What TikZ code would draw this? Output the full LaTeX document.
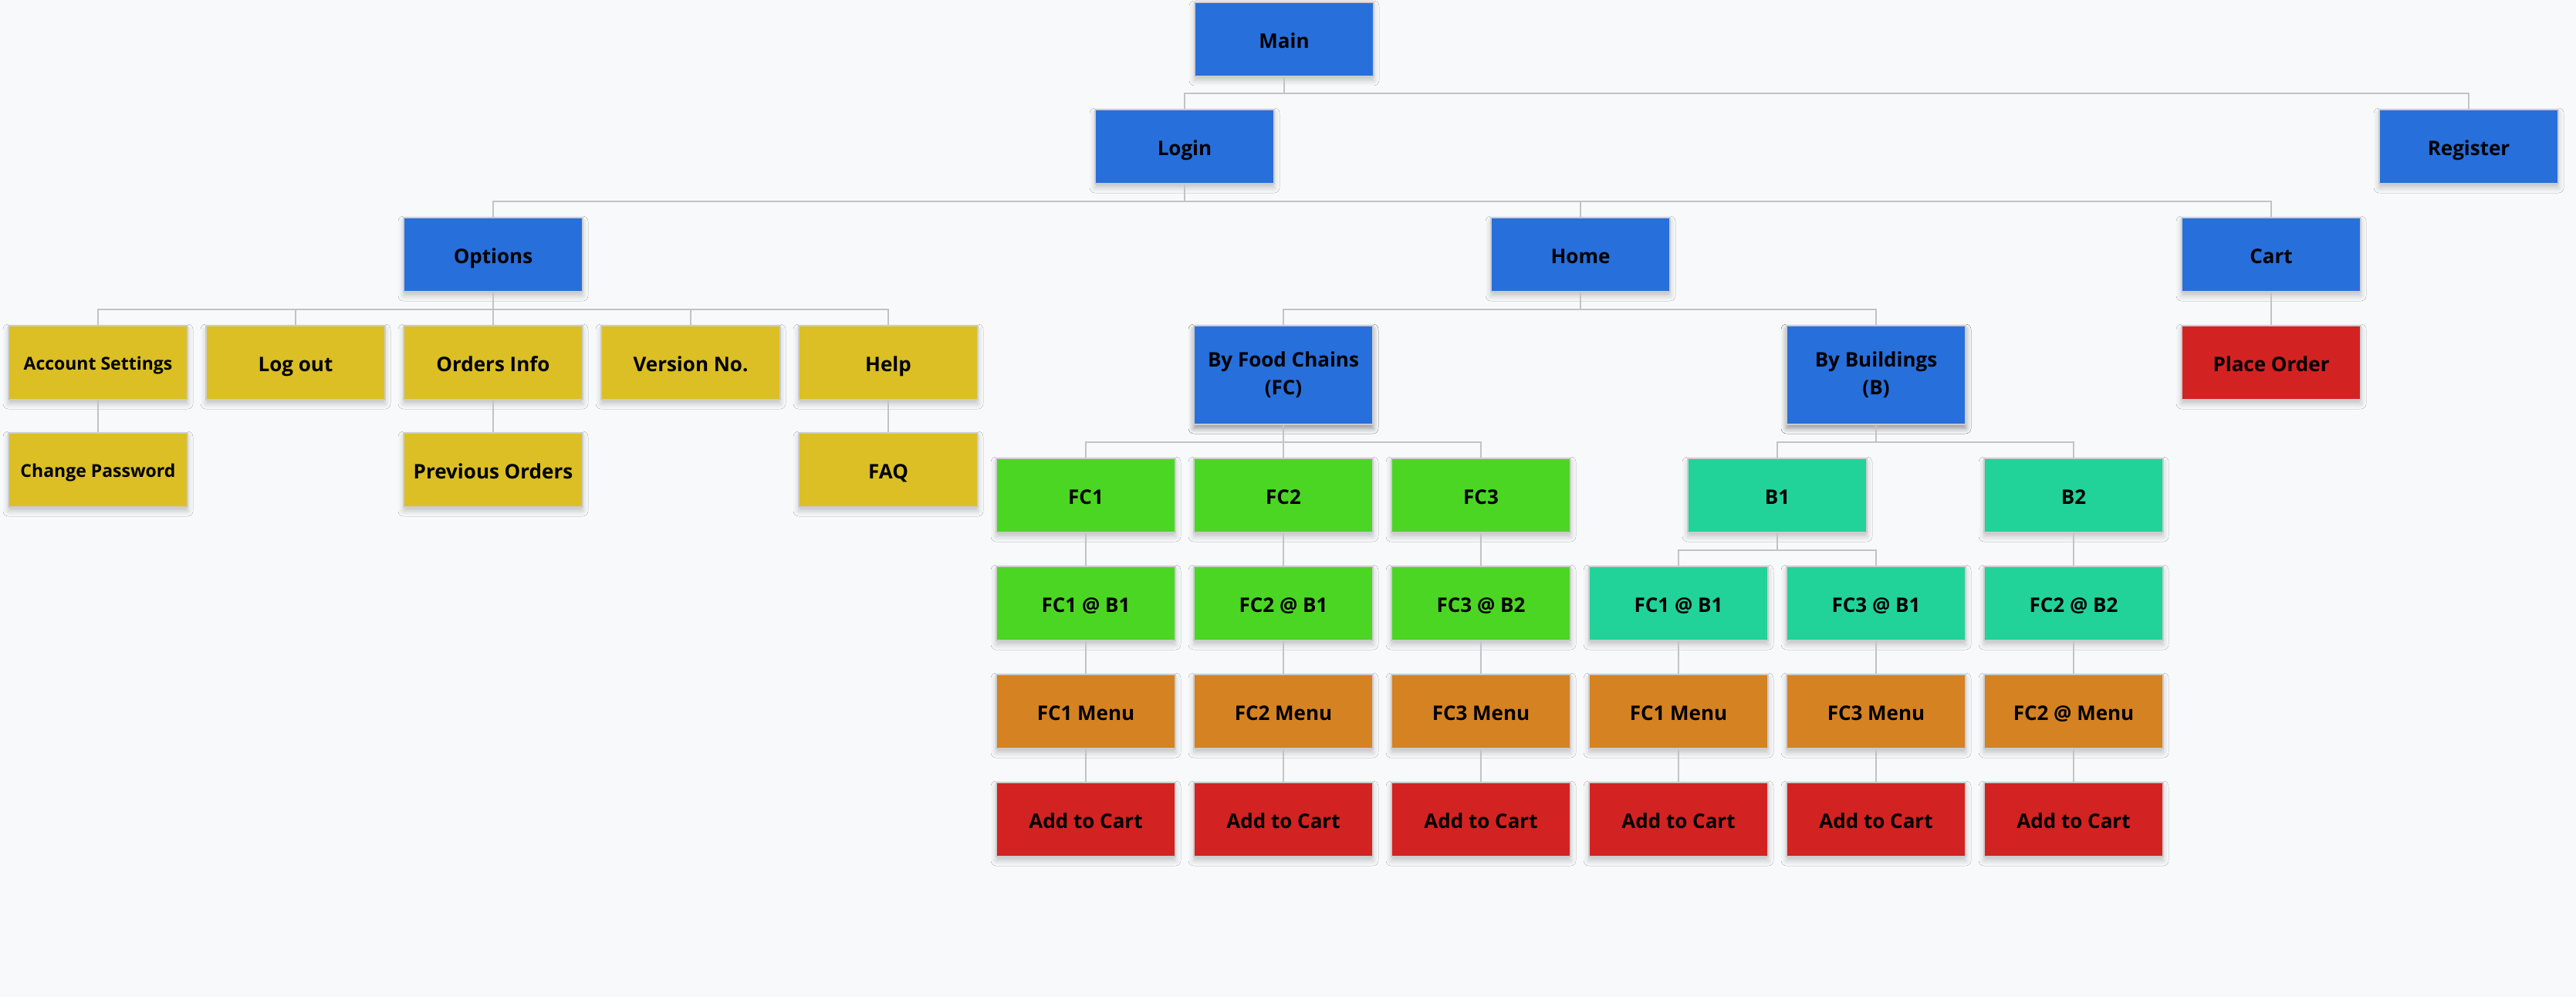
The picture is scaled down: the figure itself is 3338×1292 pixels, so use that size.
\documentclass[tikz,border=0pt]{standalone}
\usepackage{fontspec}
\setmainfont{Open Sans}
\usetikzlibrary{shadows.blur}

\definecolor{pagebg}{HTML}{F8F9FB}
\definecolor{edgegray}{HTML}{C3C3C3}
\definecolor{boxline}{HTML}{CCCCCC}
\definecolor{navblue}{HTML}{276FDB}
\definecolor{optyellow}{HTML}{DBBF24}
\definecolor{chaingreen}{HTML}{4CD624}
\definecolor{bldteal}{HTML}{22D399}
\definecolor{menuorange}{HTML}{D48222}
\definecolor{actred}{HTML}{D32222}

\tikzset{
  box/.style={draw=boxline, line width=2pt, minimum width=232pt, minimum height=96pt,
    inner sep=0pt, align=center, text=black,
    font=\bfseries\fontsize{26}{36}\selectfont,
    text height=26pt, text depth=3pt,
    blur shadow={shadow xshift=0pt, shadow yshift=-5pt, shadow blur radius=7pt, shadow opacity=22}},
  tallbox/.style={box, minimum height=128pt, text height=, text depth=},
  smalltext/.style={font=\bfseries\fontsize{23}{30}\selectfont, text height=22pt, text depth=4pt},
  bluebox/.style={box, fill=navblue},
  yellowbox/.style={box, fill=optyellow},
  greenbox/.style={box, fill=chaingreen},
  tealbox/.style={box, fill=bldteal},
  orangebox/.style={box, fill=menuorange},
  redbox/.style={box, fill=actred},
  link/.style={draw=edgegray, line width=2.6pt}
}

\begin{document}
\begin{tikzpicture}[x=1pt, y=1pt]
  \fill[pagebg] (0,0) rectangle (3338,-1292);
  \useasboundingbox (0,0) rectangle (3338,-1292);

  % top levels
  \node[bluebox] (main)     at (1664,-51)  {Main};
  \node[bluebox] (login)    at (1535,-190) {Login};
  \node[bluebox] (register) at (3199,-190) {Register};
  \node[bluebox] (options)  at (639,-330)  {Options};
  \node[bluebox] (home)     at (2048,-330) {Home};
  \node[bluebox] (cart)     at (2943,-330) {Cart};

  % options branch
  \node[yellowbox, smalltext] (acct)    at (127,-470)  {Account Settings};
  \node[yellowbox] (logout)  at (383,-470)  {Log out};
  \node[yellowbox] (orders)  at (639,-470)  {Orders Info};
  \node[yellowbox] (version) at (895,-470)  {Version No.};
  \node[yellowbox] (help)    at (1151,-470) {Help};
  \node[yellowbox, smalltext] (passwd)  at (127,-609)  {Change Password};
  \node[yellowbox] (prev)    at (639,-609)  {Previous Orders};
  \node[yellowbox] (faq)     at (1151,-609) {FAQ};

  % home branch
  \node[bluebox, tallbox] (byfc) at (1663,-486) {By Food Chains\\(FC)};
  \node[bluebox, tallbox] (byb)  at (2431,-486) {By Buildings\\(B)};
  \node[redbox] (place) at (2943,-470) {Place Order};

  \node[greenbox] (fc1) at (1407,-642) {FC1};
  \node[greenbox] (fc2) at (1663,-642) {FC2};
  \node[greenbox] (fc3) at (1919,-642) {FC3};
  \node[tealbox]  (b1)  at (2303,-642) {B1};
  \node[tealbox]  (b2)  at (2687,-642) {B2};

  \node[greenbox] (fc1b1) at (1407,-782) {FC1 @ B1};
  \node[greenbox] (fc2b1) at (1663,-782) {FC2 @ B1};
  \node[greenbox] (fc3b2) at (1919,-782) {FC3 @ B2};
  \node[tealbox]  (b1fc1) at (2175,-782) {FC1 @ B1};
  \node[tealbox]  (b1fc3) at (2431,-782) {FC3 @ B1};
  \node[tealbox]  (b2fc2) at (2687,-782) {FC2 @ B2};

  \node[orangebox] (m1) at (1407,-922) {FC1 Menu};
  \node[orangebox] (m2) at (1663,-922) {FC2 Menu};
  \node[orangebox] (m3) at (1919,-922) {FC3 Menu};
  \node[orangebox] (m4) at (2175,-922) {FC1 Menu};
  \node[orangebox] (m5) at (2431,-922) {FC3 Menu};
  \node[orangebox] (m6) at (2687,-922) {FC2 @ Menu};

  \node[redbox] (a1) at (1407,-1062) {Add to Cart};
  \node[redbox] (a2) at (1663,-1062) {Add to Cart};
  \node[redbox] (a3) at (1919,-1062) {Add to Cart};
  \node[redbox] (a4) at (2175,-1062) {Add to Cart};
  \node[redbox] (a5) at (2431,-1062) {Add to Cart};
  \node[redbox] (a6) at (2687,-1062) {Add to Cart};

  % connectors: child top -> bus -> parent bottom
  \foreach \p/\c in {main/login, main/register,
      login/options, login/home, login/cart,
      options/acct, options/logout, options/orders, options/version, options/help,
      acct/passwd, orders/prev, help/faq,
      home/byfc, home/byb, cart/place,
      byfc/fc1, byfc/fc2, byfc/fc3, byb/b1, byb/b2,
      fc1/fc1b1, fc2/fc2b1, fc3/fc3b2, b1/b1fc1, b1/b1fc3, b2/b2fc2,
      fc1b1/m1, fc2b1/m2, fc3b2/m3, b1fc1/m4, b1fc3/m5, b2fc2/m6,
      m1/a1, m2/a2, m3/a3, m4/a4, m5/a5, m6/a6}
    \draw[link] (\c.north) -- ++(0,20) -| (\p.south);
\end{tikzpicture}
\end{document}
